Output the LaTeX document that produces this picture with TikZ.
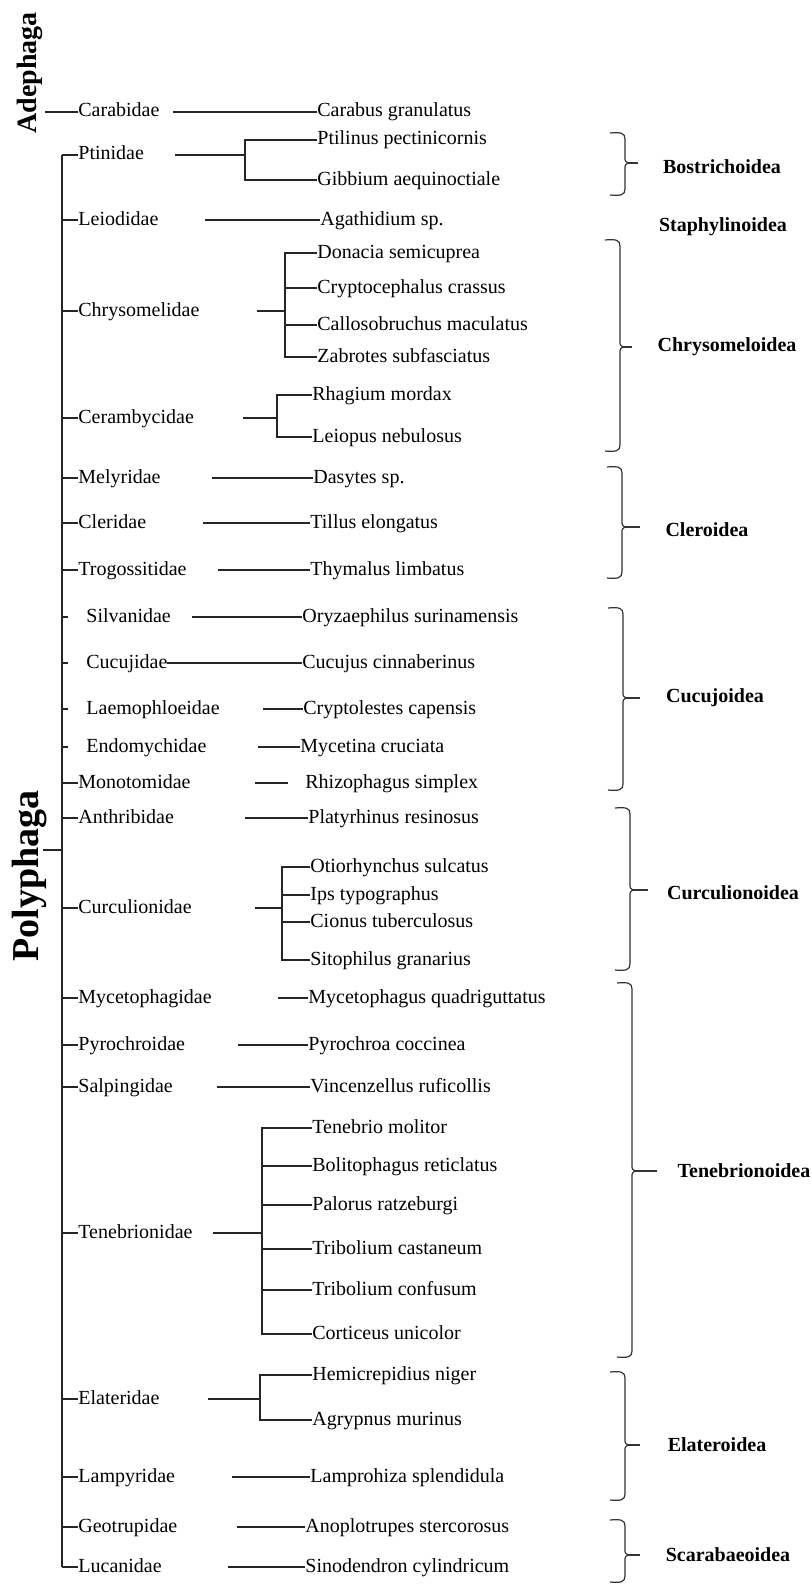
\documentclass[tikz,border=0pt]{standalone}
\usepackage{fontspec}
\setmainfont{Liberation Serif}
\newcommand\brkt[5]{% x, top, bottom, mid, tick end
  \draw[brk] ({#1-15},#2) .. controls ({#1-4},{#2-1}) and (#1,#2) .. (#1,{#2+6})
    -- (#1,{#4-6}) .. controls (#1,{#4-2}) .. ({#1+3},#4)
    .. controls (#1,{#4+2}) .. (#1,{#4+6})
    -- (#1,{#3-6}) .. controls (#1,#3) and ({#1-4},{#3+1}) .. ({#1-15},#3);
  \draw[brk] ({#1+3},#4) -- (#5,#4);}
\newcommand\onesp[7]{% id, family, y, family x, line start x, species x, species
  \node[fam] (#1) at (#4,#3) {#2};
  \node[sp] (#1s) at (#6,#3) {#7};
  \draw[ln] (#5,#3) -- (#1s.west);}
\begin{document}
\begin{tikzpicture}[x=0.5pt,y=-0.5pt,
  fam/.style={anchor=west,inner sep=0pt,text height=7pt,text depth=2pt,font=\fontsize{10}{12}\selectfont},
  sp/.style={fam},
  ln/.style={line width=0.7pt,draw=black!85},
  trunk/.style={line width=1.2pt,draw=black!85},
  brk/.style={line width=0.6pt,draw=black!80},
  supfam/.style={inner sep=0pt,font=\bfseries\fontsize{10}{12}\selectfont},
  order/.style={inner sep=0pt,rotate=90,font=\bfseries}]
\useasboundingbox (0,0) rectangle (811,1584);

% Adephaga
\node[order,font=\bfseries\fontsize{14}{16}\selectfont] (adeph) at (30,73) {Adephaga};
\onesp{carabidae}{Carabidae}{112}{78}{173}{317}{Carabus granulatus}
\coordinate (adj) at (45,112);
\draw[ln] (adj) -- (carabidae.west);

% Polyphaga
\node[order,font=\bfseries\fontsize{19}{22}\selectfont] (poly) at (30,876) {Polyphaga};
\coordinate (polyj) at (43,850);
\coordinate (trj) at (62,850);
\draw[ln] (polyj) -- (trj);
\coordinate (ttop) at (62,155);
\coordinate (tbot) at (62,1567);
\draw[trunk] (ttop) -- (tbot);

% Ptinidae
\node[fam] (ptinidae) at (78,155) {Ptinidae};
\node[sp] (ptil) at (317,140) {Ptilinus pectinicornis};
\node[sp] (gibb) at (317,180) {Gibbium aequinoctiale};
\coordinate (ptb) at (245,155);
\draw[ln] (175,155) -- (ptb);
\draw[ln] (ptil.west) -| (ptb) |- (gibb.west);

\onesp{leiodidae}{Leiodidae}{220}{78}{205}{320}{Agathidium sp.}

% Chrysomelidae
\node[fam] (chrys) at (78,311) {Chrysomelidae};
\node[sp] (don) at (317,253) {Donacia semicuprea};
\node[sp] (cryp) at (317,288) {Cryptocephalus crassus};
\node[sp] (call) at (317,325) {Callosobruchus maculatus};
\node[sp] (zab) at (317,357) {Zabrotes subfasciatus};
\coordinate (chb) at (285,311);
\draw[ln] (257,311) -- (chb);
\draw[ln] (don.west) -| (chb) |- (zab.west);
\draw[ln] (cryp.west) -- (cryp.west -| chb);
\draw[ln] (call.west) -- (call.west -| chb);

% Cerambycidae
\node[fam] (ceram) at (78,418) {Cerambycidae};
\node[sp] (rhag) at (312,395) {Rhagium mordax};
\node[sp] (leio) at (312,437) {Leiopus nebulosus};
\coordinate (ceb) at (277,418);
\draw[ln] (243,418) -- (ceb);
\draw[ln] (rhag.west) -| (ceb) |- (leio.west);

\onesp{melyridae}{Melyridae}{478}{78}{212}{313}{Dasytes sp.}
\onesp{cleridae}{Cleridae}{523}{78}{203}{310}{Tillus elongatus}
\onesp{trogos}{Trogossitidae}{570}{78}{218}{310}{Thymalus limbatus}
\onesp{silvan}{Silvanidae}{617}{86}{192}{302}{Oryzaephilus surinamensis}
\onesp{cucuj}{Cucujidae}{663}{86}{167}{302}{Cucujus cinnaberinus}
\onesp{laemo}{Laemophloeidae}{709}{86}{263}{303}{Cryptolestes capensis}
\onesp{endom}{Endomychidae}{747}{86}{258}{300}{Mycetina cruciata}
\node[fam] (monot) at (78,783) {Monotomidae};
\node[sp] (monots) at (305,783) {Rhizophagus simplex};
\coordinate (monj) at (288,783);
\draw[ln] (255,783) -- (monj);
\onesp{anthr}{Anthribidae}{818}{78}{245}{308}{Platyrhinus resinosus}

% Curculionidae
\node[fam] (curc) at (78,908) {Curculionidae};
\node[sp] (otio) at (310,867) {Otiorhynchus sulcatus};
\node[sp] (ips) at (310,895) {Ips typographus};
\node[sp] (cion) at (310,922) {Cionus tuberculosus};
\node[sp] (sito) at (310,960) {Sitophilus granarius};
\coordinate (cub) at (282,908);
\draw[ln] (255,908) -- (cub);
\draw[ln] (otio.west) -| (cub) |- (sito.west);
\draw[ln] (ips.west) -- (ips.west -| cub);
\draw[ln] (cion.west) -- (cion.west -| cub);

\onesp{mycet}{Mycetophagidae}{998}{78}{278}{308}{Mycetophagus quadriguttatus}
\onesp{pyro}{Pyrochroidae}{1045}{78}{238}{308}{Pyrochroa coccinea}
\onesp{salp}{Salpingidae}{1087}{78}{217}{310}{Vincenzellus ruficollis}

% Tenebrionidae
\node[fam] (teneb) at (78,1233) {Tenebrionidae};
\node[sp] (tmol) at (312,1128) {Tenebrio molitor};
\node[sp] (boli) at (312,1166) {Bolitophagus reticlatus};
\node[sp] (palo) at (312,1205) {Palorus ratzeburgi};
\node[sp] (tcas) at (312,1249) {Tribolium castaneum};
\node[sp] (tcon) at (312,1290) {Tribolium confusum};
\node[sp] (cort) at (312,1334) {Corticeus unicolor};
\coordinate (teb) at (262,1233);
\draw[ln] (213,1233) -- (teb);
\draw[ln] (tmol.west) -| (teb) |- (cort.west);
\foreach \s in {boli,palo,tcas,tcon} \draw[ln] (\s.west) -- (\s.west -| teb);

% Elateridae
\node[fam] (elat) at (78,1399) {Elateridae};
\node[sp] (hemi) at (312,1375) {Hemicrepidius niger};
\node[sp] (agry) at (312,1420) {Agrypnus murinus};
\coordinate (elb) at (260,1399);
\draw[ln] (208,1399) -- (elb);
\draw[ln] (hemi.west) -| (elb) |- (agry.west);

\onesp{lampy}{Lampyridae}{1477}{78}{232}{310}{Lamprohiza splendidula}
\onesp{geotr}{Geotrupidae}{1527}{78}{237}{305}{Anoplotrupes stercorosus}
\onesp{lucan}{Lucanidae}{1567}{78}{228}{305}{Sinodendron cylindricum}

% ticks from trunk
\foreach \f in {ptinidae,leiodidae,chrys,ceram,melyridae,cleridae,trogos,monot,anthr,curc,mycet,pyro,salp,teneb,elat,lampy,geotr,lucan}
  \draw[ln] (\f.west -| ttop) -- (\f.west);
\foreach \f in {silvan,cucuj,laemo,endom}
  \draw[ln] (\f.west -| ttop) -- ++(6,0);

% superfamilies
\brkt{625}{133}{195}{163}{638}
\node[supfam] (bost) at (722,167) {Bostrichoidea};
\node[supfam] (staph) at (723,227) {Staphylinoidea};
\brkt{620}{240}{451}{347}{632}
\node[supfam] (chrysoid) at (727,347) {Chrysomeloidea};
\brkt{622}{467}{578}{527}{640}
\node[supfam] (cler) at (707,530) {Cleroidea};
\brkt{623}{608}{790}{698}{640}
\node[supfam] (cucujoid) at (715,698) {Cucujoidea};
\brkt{630}{808}{970}{890}{648}
\node[supfam] (curcoid) at (733,893) {Curculionoidea};
\brkt{632}{983}{1357}{1171}{657}
\node[supfam] (tenoid) at (744,1171) {Tenebrionoidea};
\brkt{625}{1372}{1500}{1445}{640}
\node[supfam] (elatoid) at (717,1445) {Elateroidea};
\brkt{625}{1520}{1582}{1555}{640}
\node[supfam] (scarab) at (728,1555) {Scarabaeoidea};
\end{tikzpicture}
\end{document}
